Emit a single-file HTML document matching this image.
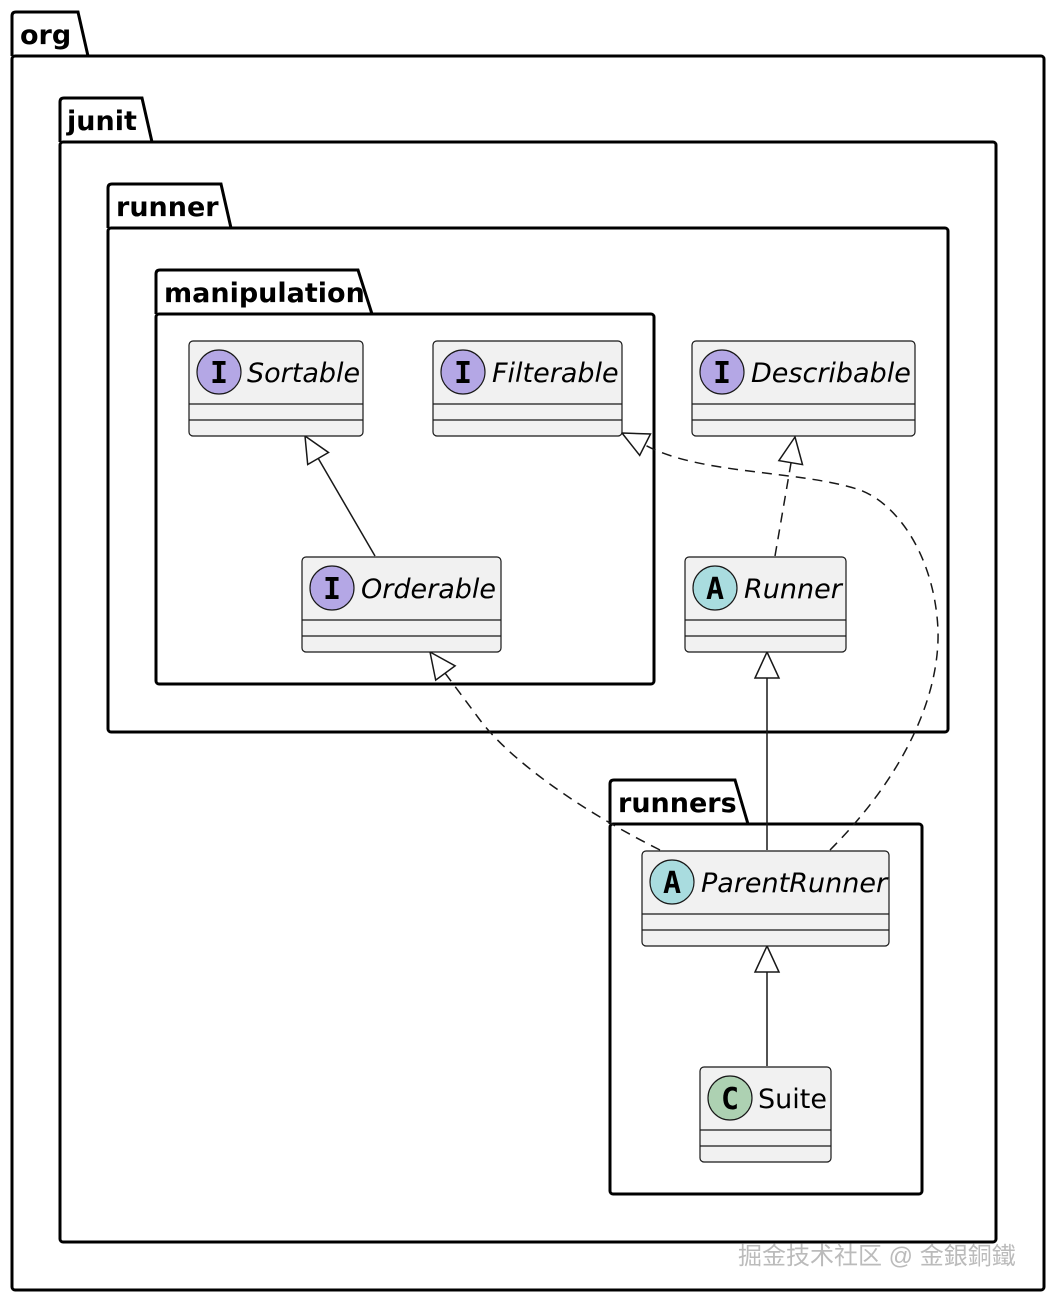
<!DOCTYPE html>
<html><head><meta charset="utf-8"><style>
html,body{margin:0;padding:0;background:#fff;}
svg{display:block;}
.pk{font-family:"DejaVu Sans","Liberation Sans",sans-serif;font-weight:bold;font-size:27px;fill:#000;}
.cn{font-family:"DejaVu Sans","Liberation Sans",sans-serif;font-style:italic;font-size:27px;fill:#000;}
.ci{font-family:"DejaVu Sans Mono","Liberation Mono",monospace;font-weight:bold;font-size:30px;fill:#000;}
</style></head><body>
<svg width="1056" height="1302" viewBox="0 0 1056 1302" xmlns="http://www.w3.org/2000/svg">
<g fill="none" stroke="#000" stroke-width="3">
<path d="M12,56 V16 Q12,12 16,12 H78 L88,56"/><rect x="12" y="56" width="1032" height="1234" rx="3"/>
<path d="M60,142 V102 Q60,98 64,98 H142 L152,142"/><rect x="60" y="142" width="936" height="1100" rx="3"/>
<path d="M108,228 V188 Q108,184 112,184 H221 L231,228"/><rect x="108" y="228" width="840" height="504" rx="3"/>
<path d="M156,314 V274 Q156,270 160,270 H358 L372,314"/><rect x="156" y="314" width="498" height="370" rx="3"/>
<path d="M610,824 V784 Q610,780 614,780 H735 L748,824"/><rect x="610" y="824" width="312" height="370" rx="3"/>
</g>
<text class="pk" x="20" y="44">org</text>
<text class="pk" x="67" y="130">junit</text>
<text class="pk" x="116" y="216">runner</text>
<text class="pk" x="164" y="302">manipulation</text>
<text class="pk" x="618" y="812">runners</text>

<g stroke="#181818" stroke-width="1.5" fill="none">
<line x1="375" y1="556" x2="318" y2="458"/>
<path d="M830,850 C900,780 940,700 938,630 C935,560 900,505 860,490 C800,470 700,475 645,445" stroke-dasharray="10,7"/>
<line x1="775" y1="556" x2="791" y2="463" stroke-dasharray="10,7"/>
<line x1="767" y1="850" x2="767" y2="678"/>
<path d="M660,850 C580,810 510,760 480,720 L445,673" stroke-dasharray="10,7"/>
<line x1="767" y1="1066" x2="767" y2="972"/>
</g>
<g stroke="#181818" stroke-width="1.5" fill="#fff">
<polygon points="305,436 328.5,452.5 307.7,464.5"/>
<polygon points="622,433 650.5,434 639.7,455.4"/>
<polygon points="795,437 802.5,464.6 778.9,460.6"/>
<polygon points="767,652 779,678 755,678"/>
<polygon points="430,652 455.1,665.9 435.7,680.1"/>
<polygon points="767,946 779,972 755,972"/>
</g>

<g stroke="#181818" stroke-width="1.2">
<rect x="189" y="341" width="174" height="95" rx="4" fill="#f1f1f1"/><line x1="189" y1="404" x2="363" y2="404"/><line x1="189" y1="420" x2="363" y2="420"/>
<rect x="433" y="341" width="189" height="95" rx="4" fill="#f1f1f1"/><line x1="433" y1="404" x2="622" y2="404"/><line x1="433" y1="420" x2="622" y2="420"/>
<rect x="692" y="341" width="223" height="95" rx="4" fill="#f1f1f1"/><line x1="692" y1="404" x2="915" y2="404"/><line x1="692" y1="420" x2="915" y2="420"/>
<rect x="302" y="557" width="199" height="95" rx="4" fill="#f1f1f1"/><line x1="302" y1="620" x2="501" y2="620"/><line x1="302" y1="636" x2="501" y2="636"/>
<rect x="685" y="557" width="161" height="95" rx="4" fill="#f1f1f1"/><line x1="685" y1="620" x2="846" y2="620"/><line x1="685" y1="636" x2="846" y2="636"/>
<rect x="642" y="851" width="247" height="95" rx="4" fill="#f1f1f1"/><line x1="642" y1="914" x2="889" y2="914"/><line x1="642" y1="930" x2="889" y2="930"/>
<rect x="700" y="1067" width="131" height="95" rx="4" fill="#f1f1f1"/><line x1="700" y1="1130" x2="831" y2="1130"/><line x1="700" y1="1146" x2="831" y2="1146"/>
<circle cx="219" cy="372" r="22" fill="#b4a7e5"/>
<circle cx="463" cy="372" r="22" fill="#b4a7e5"/>
<circle cx="722" cy="372" r="22" fill="#b4a7e5"/>
<circle cx="332" cy="588" r="22" fill="#b4a7e5"/>
<circle cx="715" cy="588" r="22" fill="#a9dcdf"/>
<circle cx="672" cy="882" r="22" fill="#a9dcdf"/>
<circle cx="730" cy="1098" r="22" fill="#add1b2"/>
</g>
<g class="ci" text-anchor="middle">
<text x="219" y="383">I</text><text x="463" y="383">I</text><text x="722" y="383">I</text><text x="332" y="599">I</text>
<text x="715" y="599">A</text><text x="672" y="893">A</text><text x="730" y="1109">C</text>
</g>
<text class="cn" x="247" y="382">Sortable</text>
<text class="cn" x="492" y="382">Filterable</text>
<text class="cn" x="751" y="382">Describable</text>
<text class="cn" x="361" y="598">Orderable</text>
<text class="cn" x="744" y="598">Runner</text>
<text class="cn" x="701" y="892">ParentRunner</text>
<text class="cn" x="758" y="1108" style="font-style:normal">Suite</text>
<text x="738" y="1264" style="font-family:'Liberation Sans','Noto Sans CJK SC',sans-serif;font-size:24px;fill:#bbb;">掘金技术社区 @ 金銀銅鐵</text>
</svg>
</body></html>
